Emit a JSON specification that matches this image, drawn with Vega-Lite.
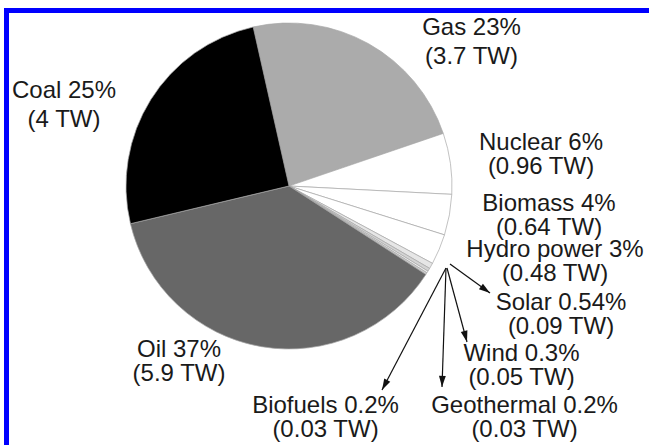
{
  "$schema": "https://vega.github.io/schema/vega-lite/v6.json",
  "width": 649,
  "height": 445,
  "padding": 0,
  "autosize": {"type": "none"},
  "background": "white",
  "config": {"view": {"stroke": null}},
  "datasets": {
    "sources": [
      {"source": "Gas", "tw": 3.7, "rank": 1},
      {"source": "Nuclear", "tw": 0.96, "rank": 2},
      {"source": "Biomass", "tw": 0.64, "rank": 3},
      {"source": "Hydro power", "tw": 0.48, "rank": 4},
      {"source": "Solar", "tw": 0.09, "rank": 5},
      {"source": "Wind", "tw": 0.05, "rank": 6},
      {"source": "Geothermal", "tw": 0.03, "rank": 7},
      {"source": "Biofuels", "tw": 0.03, "rank": 8},
      {"source": "Oil", "tw": 5.9, "rank": 9},
      {"source": "Coal", "tw": 4, "rank": 10}
    ],
    "labelsWide": [
      {"label": ["Gas 23%", "(3.7 TW)"], "lx": 471.5, "ly": 35},
      {"label": ["Coal 25%", "(4 TW)"], "lx": 64, "ly": 98}
    ],
    "labelsTight": [
      {"label": ["Nuclear 6%", "(0.96 TW)"], "lx": 541, "ly": 150},
      {"label": ["Biomass 4%", "(0.64 TW)"], "lx": 549, "ly": 211},
      {"label": ["Hydro power 3%", "(0.48 TW)"], "lx": 555, "ly": 257},
      {"label": ["Solar 0.54%", "(0.09 TW)"], "lx": 561, "ly": 310},
      {"label": ["Wind 0.3%", "(0.05 TW)"], "lx": 521.5, "ly": 361},
      {"label": ["Geothermal 0.2%", "(0.03 TW)"], "lx": 524.5, "ly": 413},
      {"label": ["Biofuels 0.2%", "(0.03 TW)"], "lx": 325.5, "ly": 413},
      {"label": ["Oil 37%", "(5.9 TW)"], "lx": 179, "ly": 357}
    ],
    "arrows": [
      {"target": "Solar", "x0": 450, "y0": 264, "x1": 490, "y1": 293, "heading": -54},
      {"target": "Wind", "x0": 447, "y0": 268, "x1": 467, "y1": 342, "heading": -15},
      {"target": "Geothermal", "x0": 446, "y0": 268, "x1": 442, "y1": 387, "heading": 2},
      {"target": "Biofuels", "x0": 446, "y0": 268, "x1": 382, "y1": 390, "heading": 28}
    ]
  },
  "layer": [
    {
      "data": {"name": "sources"},
      "mark": {"type": "arc", "outerRadius": 163, "stroke": "#a8a8a8", "strokeWidth": 0.7},
      "encoding": {
        "x": {"datum": 289, "type": "quantitative", "scale": {"domain": [0, 649]}, "axis": null},
        "y": {"datum": 186, "type": "quantitative", "scale": {"domain": [0, 445], "reverse": true}, "axis": null},
        "theta": {"field": "tw", "type": "quantitative", "stack": true, "scale": {"range": [-0.2217, 6.0615]}},
        "order": {"field": "rank", "type": "quantitative", "sort": "ascending"},
        "color": {
          "field": "source",
          "type": "nominal",
          "legend": null,
          "scale": {
            "domain": ["Gas", "Nuclear", "Biomass", "Hydro power", "Solar", "Wind", "Geothermal", "Biofuels", "Oil", "Coal"],
            "range": ["#ababab", "#ffffff", "#ffffff", "#ffffff", "#e6e6e6", "#d4d4d4", "#eeeeee", "#cfcfcf", "#676767", "#000000"]
          }
        }
      }
    },
    {
      "data": {"name": "arrows"},
      "mark": {"type": "rule", "color": "#111111", "strokeWidth": 1.2},
      "encoding": {
        "x": {"field": "x0", "type": "quantitative", "scale": {"domain": [0, 649]}, "axis": null},
        "y": {"field": "y0", "type": "quantitative", "scale": {"domain": [0, 445], "reverse": true}, "axis": null},
        "x2": {"field": "x1"},
        "y2": {"field": "y1"}
      }
    },
    {
      "data": {"name": "arrows"},
      "mark": {"type": "point", "shape": "M0,0L-0.85,-2.8L0.85,-2.8Z", "filled": true, "color": "#111111", "opacity": 1, "size": 64, "strokeWidth": 0},
      "encoding": {
        "x": {"field": "x1", "type": "quantitative", "scale": {"domain": [0, 649]}, "axis": null},
        "y": {"field": "y1", "type": "quantitative", "scale": {"domain": [0, 445], "reverse": true}, "axis": null},
        "angle": {"field": "heading", "type": "quantitative", "scale": null}
      }
    },
    {
      "data": {"name": "labelsWide"},
      "mark": {"type": "text", "font": "Liberation Sans", "fontSize": 24, "lineHeight": 28.5, "align": "center", "baseline": "alphabetic", "color": "#1a1a1a"},
      "encoding": {
        "x": {"field": "lx", "type": "quantitative", "scale": {"domain": [0, 649]}, "axis": null},
        "y": {"field": "ly", "type": "quantitative", "scale": {"domain": [0, 445], "reverse": true}, "axis": null},
        "text": {"field": "label"}
      }
    },
    {
      "data": {"name": "labelsTight"},
      "mark": {"type": "text", "font": "Liberation Sans", "fontSize": 24, "lineHeight": 23.5, "align": "center", "baseline": "alphabetic", "color": "#1a1a1a"},
      "encoding": {
        "x": {"field": "lx", "type": "quantitative", "scale": {"domain": [0, 649]}, "axis": null},
        "y": {"field": "ly", "type": "quantitative", "scale": {"domain": [0, 445], "reverse": true}, "axis": null},
        "text": {"field": "label"}
      }
    },
    {
      "data": {"values": [{}]},
      "mark": {"type": "rect", "fill": null, "stroke": "#0000ff", "strokeWidth": 5, "clip": true},
      "encoding": {
        "x": {"datum": 6.5, "type": "quantitative", "scale": {"domain": [0, 649]}, "axis": null},
        "x2": {"datum": 700},
        "y": {"datum": 10.5, "type": "quantitative", "scale": {"domain": [0, 445], "reverse": true}, "axis": null},
        "y2": {"datum": 500}
      }
    }
  ]
}
